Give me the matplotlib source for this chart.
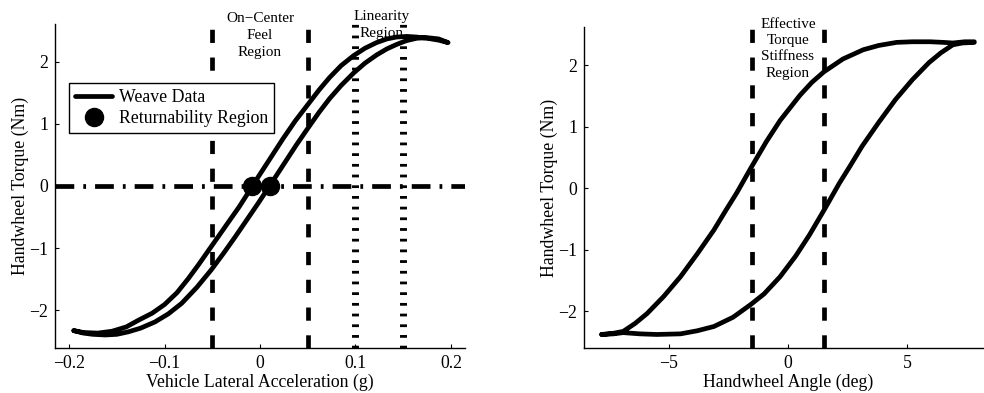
import matplotlib
matplotlib.use('Agg')
import matplotlib.pyplot as plt

plt.rcParams['font.family'] = ['Liberation Serif', 'DejaVu Serif']
plt.rcParams['lines.scale_dashes'] = False

# Left panel: torque vs lateral acceleration (weave loop)
acc_upper = [-0.195, -0.185, -0.170, -0.155, -0.140, -0.127, -0.113, -0.100, -0.087,
             -0.075, -0.064, -0.054, -0.043, -0.033, -0.022, -0.012, -0.003, 0.008,
             0.024, 0.037, 0.051, 0.062, 0.073, 0.085, 0.098, 0.110, 0.122, 0.133,
             0.143, 0.154, 0.164, 0.175, 0.187, 0.197]
trq_upper = [-2.33, -2.36, -2.37, -2.34, -2.27, -2.16, -2.05, -1.91, -1.72,
             -1.49, -1.26, -1.04, -0.80, -0.58, -0.34, -0.10, 0.12, 0.38,
             0.76, 1.05, 1.33, 1.55, 1.75, 1.94, 2.10, 2.22, 2.31, 2.37,
             2.40, 2.41, 2.40, 2.38, 2.35, 2.31]
acc_lower = [-0.195, -0.185, -0.175, -0.162, -0.150, -0.138, -0.125, -0.110, -0.096,
             -0.082, -0.066, -0.051, -0.038, -0.026, -0.014, -0.002, 0.010, 0.024,
             0.038, 0.051, 0.062, 0.073, 0.085, 0.098, 0.110, 0.122, 0.133, 0.143,
             0.153, 0.164, 0.175, 0.187, 0.197]
trq_lower = [-2.33, -2.37, -2.39, -2.40, -2.39, -2.35, -2.29, -2.19, -2.06,
             -1.89, -1.63, -1.35, -1.08, -0.82, -0.55, -0.28, 0.00, 0.33,
             0.66, 0.95, 1.19, 1.41, 1.62, 1.82, 1.98, 2.11, 2.21, 2.28,
             2.34, 2.38, 2.39, 2.37, 2.31]
ret_acc = [-0.008, 0.010]
ret_trq = [0.0, 0.0]
oncenter_lim = [-0.05, 0.05]
linearity_lim = [0.10, 0.15]

# Right panel: torque vs handwheel angle
ang_upper = [-7.8, -7.3, -6.9, -6.4, -5.9, -5.2, -4.5, -3.8, -3.1, -2.6, -2.15,
             -1.55, -0.9, -0.33, 0.5, 1.0, 1.5, 2.3, 3.15, 3.8, 4.55, 5.2, 5.95,
             6.5, 6.9, 7.4, 7.8]
trq2_upper = [-2.38, -2.36, -2.33, -2.20, -2.04, -1.76, -1.44, -1.07, -0.68, -0.36,
              -0.08, 0.33, 0.76, 1.10, 1.51, 1.72, 1.89, 2.10, 2.25, 2.32, 2.37,
              2.38, 2.38, 2.37, 2.36, 2.38, 2.38]
ang_lower = [-7.8, -7.3, -6.9, -6.2, -5.5, -4.5, -3.8, -3.1, -2.3, -1.55, -1.0,
             -0.33, 0.33, 0.9, 1.55, 2.15, 2.6, 3.1, 3.8, 4.5, 5.2, 5.9, 6.4, 6.9,
             7.3, 7.8]
trq2_lower = [-2.38, -2.37, -2.35, -2.37, -2.38, -2.37, -2.32, -2.25, -2.10, -1.89,
              -1.72, -1.44, -1.10, -0.76, -0.33, 0.08, 0.36, 0.68, 1.07, 1.44,
              1.76, 2.04, 2.20, 2.33, 2.36, 2.37]
stiff_lim = [-1.5, 1.5]

fig = plt.figure(figsize=(9.84, 3.93), dpi=100)
ax1 = fig.add_axes([55 / 984, 45 / 393, 410 / 984, 324 / 393])
ax2 = fig.add_axes([584 / 984, 45 / 393, 408 / 984, 321 / 393])

curve_lw = 3.4
big = 12.8     # tick / axis label / legend size
small = 11     # region annotations
dash_style = dict(color='k', lw=3.4, dashes=(9.5, 10.5), solid_capstyle='butt',
                  dash_capstyle='butt')


def style_axes(ax):
    for side in ['top', 'right']:
        ax.spines[side].set_visible(False)
    for side in ['left', 'bottom']:
        ax.spines[side].set_linewidth(1.0)
    ax.tick_params(direction='in', length=3, width=0.8, labelsize=big, pad=5)


# ---- left panel ----
ax1.axhline(0, color='k', lw=3.4, dashes=(13.5, 6.5, 2, 6.5), dash_capstyle='butt',
            zorder=1)
for xv in oncenter_lim:
    ax1.axvline(xv, **dash_style, zorder=1)
for xv in linearity_lim:
    ax1.axvline(xv, color='k', lw=5, dashes=(2, 5.7), dash_capstyle='butt', zorder=1)

ax1.plot(acc_upper + acc_lower[::-1], trq_upper + trq_lower[::-1], color='k',
         lw=curve_lw, solid_joinstyle='round', solid_capstyle='round',
         label='Weave Data', zorder=3)
ax1.plot(ret_acc, ret_trq, 'o', color='k', ms=13, label='Returnability Region',
         zorder=4)

ax1.set_xlim(-0.2147, 0.2147)
ax1.set_ylim(-2.61, 2.61)
ax1.set_xticks([-0.2, -0.1, 0, 0.1, 0.2])
ax1.set_xticklabels(['\u22120.2', '\u22120.1', '0', '0.1', '0.2'])
ax1.set_yticks([-2, -1, 0, 1, 2])
ax1.set_yticklabels(['\u22122', '\u22121', '0', '1', '2'])
ax1.set_xlabel('Vehicle Lateral Acceleration (g)', fontsize=big, labelpad=1)
ax1.set_ylabel('Handwheel Torque (Nm)', fontsize=big, labelpad=0)
style_axes(ax1)

ax1.text(0.0, 2.80, 'On\u2212Center\nFeel\nRegion', ha='center', va='top',
         fontsize=small, linespacing=1.38, clip_on=False)
ax1.text(0.127, 2.84, 'Linearity\nRegion', ha='center', va='top',
         fontsize=small, linespacing=1.38, clip_on=False)

leg = ax1.legend(loc='upper left', bbox_to_anchor=(0.034, 0.818), fontsize=big,
                 frameon=True, fancybox=False, framealpha=1, edgecolor='k',
                 borderaxespad=0, borderpad=0.35, handlelength=2.1,
                 handletextpad=0.35, labelspacing=0.2, numpoints=1)
leg.get_frame().set_linewidth(1.0)

# ---- right panel ----
for xv in stiff_lim:
    ax2.axvline(xv, **dash_style, zorder=1)
ax2.plot(ang_upper + ang_lower[::-1], trq2_upper + trq2_lower[::-1], color='k',
         lw=curve_lw, solid_joinstyle='round', solid_capstyle='round', zorder=3)

ax2.set_xlim(-8.54, 8.54)
ax2.set_ylim(-2.60, 2.62)
ax2.set_xticks([-5, 0, 5])
ax2.set_xticklabels(['\u22125', '0', '5'])
ax2.set_yticks([-2, -1, 0, 1, 2])
ax2.set_yticklabels(['\u22122', '\u22121', '0', '1', '2'])
ax2.set_xlabel('Handwheel Angle (deg)', fontsize=big, labelpad=1)
ax2.set_ylabel('Handwheel Torque (Nm)', fontsize=big, labelpad=0)
style_axes(ax2)

ax2.text(0.0, 2.77, 'Effective\nTorque\nStiffness\nRegion', ha='center', va='top',
         fontsize=small, linespacing=1.33, clip_on=False)

fig.savefig('out.png', dpi=100)
